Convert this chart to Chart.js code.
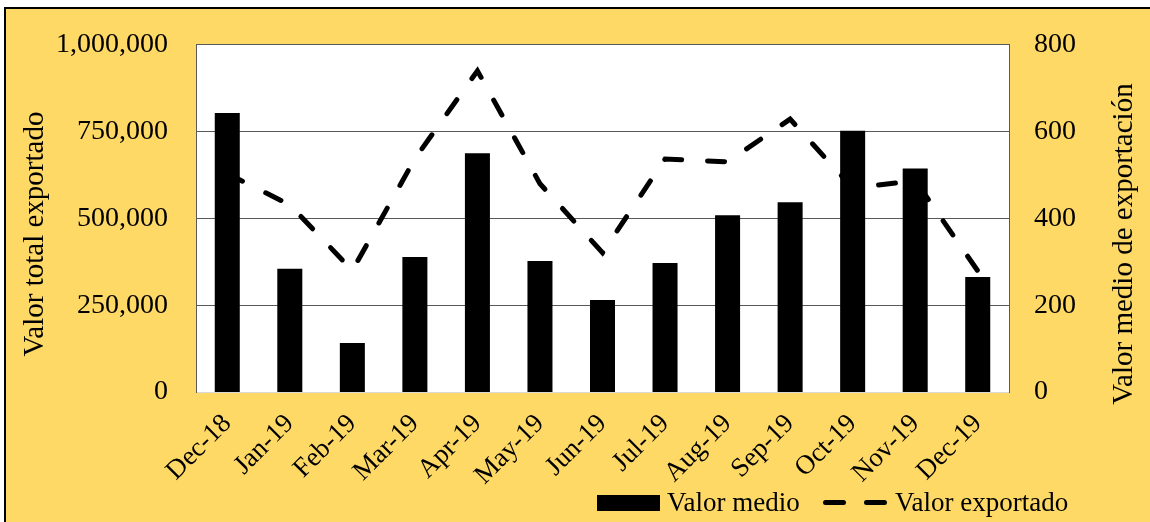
<!DOCTYPE html>
<html>
<head>
<meta charset="utf-8">
<script src="https://cdn.jsdelivr.net/npm/chart.js@4.4.0/dist/chart.umd.min.js"></script>
<style>
  html, body { margin: 0; padding: 0; background: #ffffff; overflow: hidden; }
  #frame {
    position: absolute; left: 4px; top: 7px; width: 1200px; height: 600px;
    background: #FFD966; border-top: 2px solid #000; border-left: 2px solid #000;
  }
  #chart { position: absolute; left: 0; top: 0; }
</style>
</head>
<body>
<div id="frame"></div>
<canvas id="chart" width="1150" height="522"></canvas>
<script>
const categories = ["Dec-18", "Jan-19", "Feb-19", "Mar-19", "Apr-19", "May-19", "Jun-19",
  "Jul-19", "Aug-19", "Sep-19", "Oct-19", "Nov-19", "Dec-19"];

// bars, right axis (0 - 800)
const valorMedio = [643, 284, 113, 311, 550, 302, 212, 297, 407, 437, 602, 515, 265];

// dashed line, left axis (0 - 1,000,000)
const valorExportado = [629000, 539000, 350000, 672000, 925000, 600000, 401000,
  671000, 663000, 786000, 587000, 609000, 349000];

const leftTicks = [0, 250000, 500000, 750000, 1000000];
const rightTicks = [0, 200, 400, 600, 800];

const leftTitle = "Valor total exportado";
const rightTitle = "Valor medio de exportación";

const SERIF = '"Liberation Serif", "Times New Roman", serif';

function withCommas(v) {
  return String(v).replace(/\B(?=(\d{3})+(?!\d))/g, ",");
}

const extrasPlugin = {
  id: "extras",
  beforeDraw(chart) {
    const { ctx, chartArea } = chart;
    ctx.save();
    ctx.fillStyle = "#ffffff";
    ctx.fillRect(chartArea.left, chartArea.top,
      chartArea.right - chartArea.left, chartArea.bottom - chartArea.top);
    ctx.restore();
  },
  afterDraw(chart) {
    const ctx = chart.ctx;
    ctx.save();
    ctx.fillStyle = "#000";
    ctx.font = "29px " + SERIF;
    ctx.textAlign = "center";
    ctx.textBaseline = "alphabetic";

    // axis titles
    ctx.save();
    ctx.translate(43, 234);
    ctx.rotate(-Math.PI / 2);
    ctx.fillText(leftTitle, 0, 0);
    ctx.restore();

    ctx.save();
    ctx.translate(1132, 244);
    ctx.rotate(-Math.PI / 2);
    ctx.fillText(rightTitle, 0, 0);
    ctx.restore();

    // legend
    ctx.font = "27px " + SERIF;
    ctx.textAlign = "left";
    ctx.fillRect(597, 495, 63, 16);
    ctx.fillText("Valor medio", 667, 511);

    ctx.strokeStyle = "#000";
    ctx.lineWidth = 5;
    ctx.lineCap = "round";
    ctx.setLineDash([18, 23]);
    ctx.beginPath();
    ctx.moveTo(825.5, 502.5);
    ctx.lineTo(884.5, 502.5);
    ctx.stroke();
    ctx.setLineDash([]);
    ctx.fillText("Valor exportado", 895, 511);
    ctx.restore();
  }
};

new Chart(document.getElementById("chart"), {
  data: {
    labels: categories,
    datasets: [
      {
        type: "line",
        label: "Valor exportado",
        data: valorExportado,
        yAxisID: "y",
        borderColor: "#000",
        borderWidth: 5,
        borderDash: [17, 26],
        borderCapStyle: "round",
        pointRadius: 0,
        tension: 0,
        fill: false,
        order: 0
      },
      {
        type: "bar",
        label: "Valor medio",
        data: valorMedio,
        yAxisID: "y1",
        backgroundColor: "#000",
        barPercentage: 0.4,
        categoryPercentage: 1,
        order: 1
      }
    ]
  },
  options: {
    responsive: false,
    animation: false,
    layout: { padding: { top: 42, left: 0, right: 0, bottom: 0 } },
    plugins: {
      legend: { display: false },
      tooltip: { enabled: false }
    },
    scales: {
      x: {
        grid: { display: false, drawTicks: false },
        border: { display: true, color: "#d9d9d9", width: 1 },
        ticks: {
          color: "#000",
          font: { family: SERIF, size: 27 },
          minRotation: 45,
          maxRotation: 45,
          autoSkip: false,
          padding: 16
        },
        afterFit(scale) { scale.height = 130; }
      },
      y: {
        position: "left",
        min: leftTicks[0],
        max: leftTicks[leftTicks.length - 1],
        grid: {
          drawTicks: false,
          color: (c) => (c.tick && c.tick.value === 0 ? "#d9d9d9" : "#595959"),
          lineWidth: 1
        },
        border: { display: true, color: "#595959", width: 1 },
        ticks: {
          stepSize: leftTicks[1] - leftTicks[0],
          color: "#000",
          font: { family: SERIF, size: 28 },
          padding: 28,
          callback: (v) => withCommas(v)
        },
        afterFit(scale) { scale.width = 196; }
      },
      y1: {
        position: "right",
        min: rightTicks[0],
        max: rightTicks[rightTicks.length - 1],
        grid: { display: false, drawTicks: false },
        border: { display: true, color: "#595959", width: 1 },
        ticks: {
          stepSize: rightTicks[1] - rightTicks[0],
          color: "#000",
          font: { family: SERIF, size: 28 },
          padding: 25
        },
        afterFit(scale) { scale.width = 141; }
      }
    }
  },
  plugins: [extrasPlugin]
});
</script>
</body>
</html>
